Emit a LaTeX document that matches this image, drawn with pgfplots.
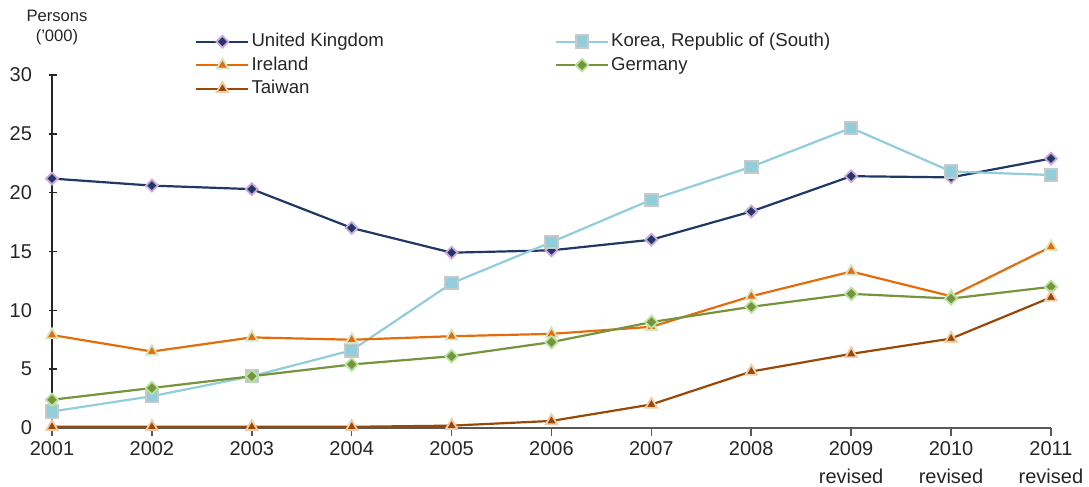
\documentclass[border=0pt]{standalone}
\usepackage{fontspec}
\setmainfont{Liberation Sans}
\usepackage{pgfplots}
\pgfplotsset{compat=1.18}
\definecolor{ukline}{HTML}{1F3864}
\definecolor{ukedge}{HTML}{CDA6E0}
\definecolor{koline}{HTML}{92CDDC}
\definecolor{koedge}{HTML}{C8C8C8}
\definecolor{irline}{HTML}{E46C0A}
\definecolor{iredge}{HTML}{D7E4BD}
\definecolor{deline}{HTML}{77933C}
\definecolor{deedge}{HTML}{B6E3A0}
\definecolor{twline}{HTML}{984807}
\definecolor{twedge}{HTML}{F0CBA8}
\definecolor{txt}{HTML}{262626}
\begin{document}
\begin{tikzpicture}
\path[use as bounding box] (-26pt,-29.5pt) rectangle (518.5pt,214pt);
\begin{axis}[
  at={(0,0)}, anchor=south west,
  width=499.5pt, height=176.5pt, scale only axis,
  xmin=2001, xmax=2011, ymin=0, ymax=30,
  clip=false,
  axis lines*=left,
  x axis line style={draw=black!65, line width=0.8pt},
  y axis line style={draw=black!85, line width=0.7pt},
  tick align=outside,
  major tick length=4pt,
  xtick={2001,...,2011},
  xticklabels={2001,2002,2003,2004,2005,2006,2007,2008,{2009\\revised},{2010\\revised},{2011\\revised}},
  ytick={0,5,...,30},
  xtick style={draw=black!65, line width=0.8pt},
  ytick style={draw=black!85, line width=0.7pt, xshift=2.5pt},
  minor tick num=0,
  x tick label style={align=center, font=\fontsize{10}{14}\selectfont, text=txt, anchor=north, yshift=1pt},
  y tick label style={font=\fontsize{10}{12}\selectfont, text=txt, xshift=-2.5pt},
  /pgf/number format/assume math mode=true,
  legend columns=2,
  legend cell align=left,
  legend style={at={(axis description cs:0.1431,1.1267)}, anchor=north west,
    draw=none, fill=none, inner sep=0pt,
    font=\fontsize{9.3}{11}\selectfont, text=txt,
    nodes={inner sep=1pt, text height=7pt, text depth=2pt},
    row sep=0.75pt,
    /tikz/every even column/.append style={column sep=84.5pt}},
  legend image code/.code={\draw[mark repeat=2,mark phase=2,#1] plot coordinates {(0pt,0pt) (13pt,0pt) (26pt,0pt)};},
]
\addplot[ukline, line width=1.1pt, mark=square*, mark size=2.1pt,
  mark options={fill=ukline, draw=ukedge, line width=0.9pt, rotate=45}] coordinates {
  (2001,21.2) (2002,20.6) (2003,20.3) (2004,17.0) (2005,14.9) (2006,15.1)
  (2007,16.0) (2008,18.4) (2009,21.4) (2010,21.3) (2011,22.9)};
\addlegendentry{United Kingdom}
\addplot[koline, line width=1.1pt, mark=square*, mark size=3.1pt,
  mark options={fill=koline, draw=koedge, line width=1.0pt}] coordinates {
  (2001,1.4) (2002,2.7) (2003,4.4) (2004,6.6) (2005,12.3) (2006,15.8)
  (2007,19.4) (2008,22.2) (2009,25.5) (2010,21.8) (2011,21.5)};
\addlegendentry{Korea, Republic of (South)}
\addplot[irline, line width=1.1pt, mark=triangle*, mark size=3.3pt,
  mark options={fill=irline, draw=iredge, line width=0.9pt}] coordinates {
  (2001,7.9) (2002,6.5) (2003,7.7) (2004,7.5) (2005,7.8) (2006,8.0)
  (2007,8.6) (2008,11.2) (2009,13.3) (2010,11.2) (2011,15.4)};
\addlegendentry{Ireland}
\addplot[deline, line width=1.1pt, mark=square*, mark size=2.2pt,
  mark options={fill=deline, draw=deedge, line width=0.9pt, rotate=45}] coordinates {
  (2001,2.4) (2002,3.4) (2003,4.4) (2004,5.4) (2005,6.1) (2006,7.3)
  (2007,9.0) (2008,10.3) (2009,11.4) (2010,11.0) (2011,12.0)};
\addlegendentry{Germany}
\addplot[twline, line width=1.1pt, mark=triangle*, mark size=3.3pt,
  mark options={fill=twline, draw=twedge, line width=0.9pt}] coordinates {
  (2001,0.1) (2002,0.1) (2003,0.1) (2004,0.1) (2005,0.2) (2006,0.6)
  (2007,2.0) (2008,4.8) (2009,6.3) (2010,7.6) (2011,11.1)};
\addlegendentry{Taiwan}
\end{axis}
\node[align=center, font=\fontsize{8.3}{10}\selectfont, text=txt] at (2.5pt,200pt) {Persons\\('000)};
\end{tikzpicture}
\end{document}
